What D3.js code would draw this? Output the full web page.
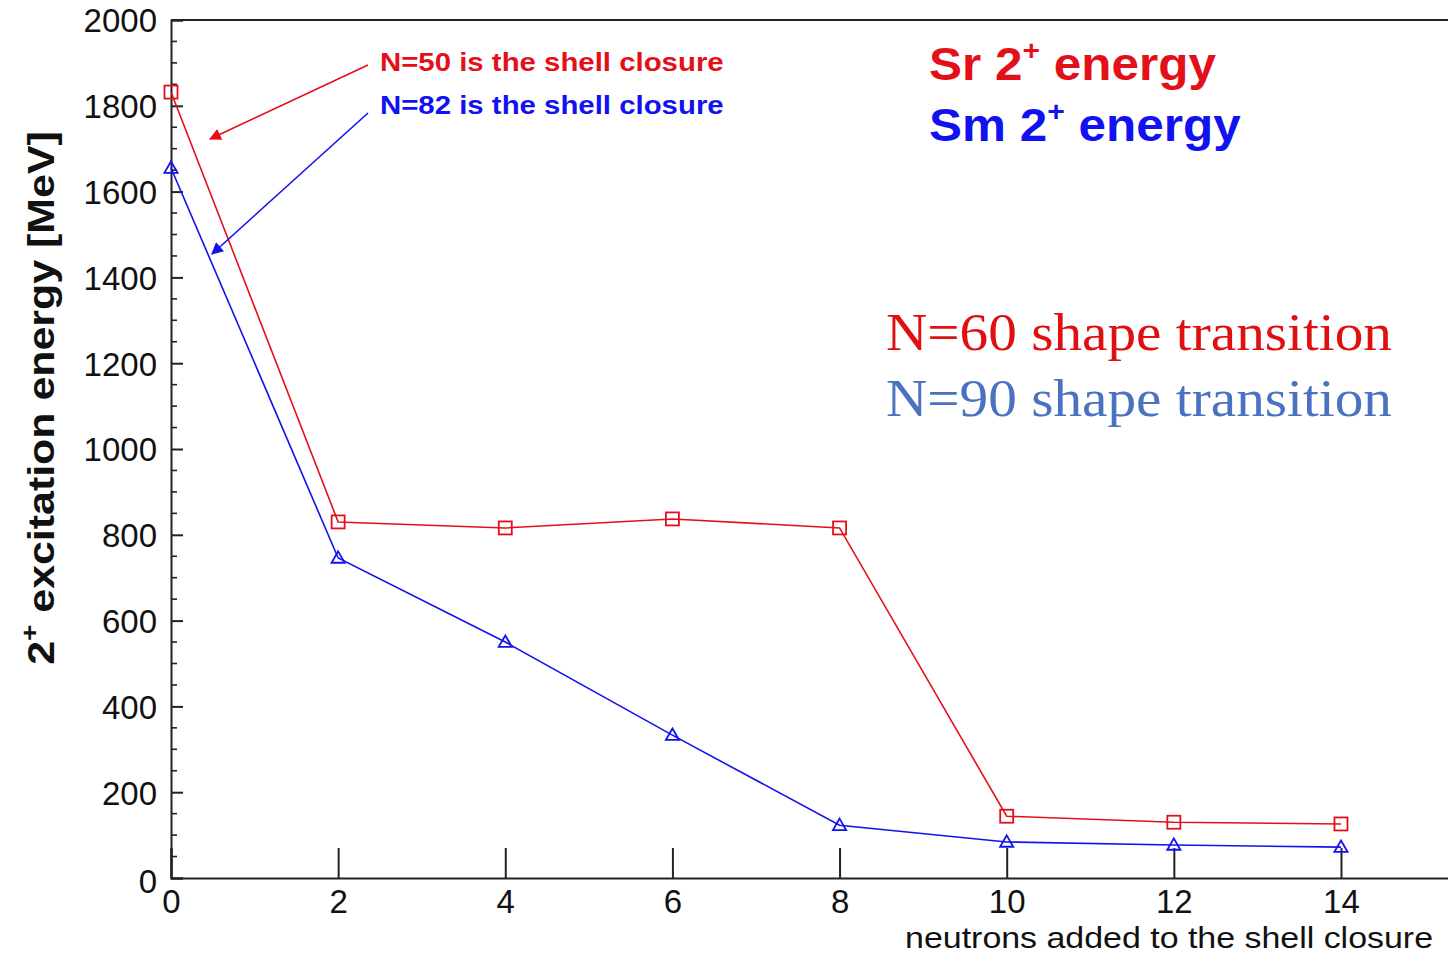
<!DOCTYPE html>
<html><head><meta charset="utf-8">
<script src="https://cdn.jsdelivr.net/npm/d3@7"></script>
<style>html,body{margin:0;padding:0;background:#fff;} svg{display:block;}</style>
</head><body>
<script>
const neutrons = [0, 2, 4, 6, 8, 10, 12, 14];
const srEnergy = [1832, 830, 816, 837, 816, 144, 130, 126];
const smEnergy = [1655, 746, 550, 333, 123, 84, 77, 72];
const xTicks = [0, 2, 4, 6, 8, 10, 12, 14];
const yTicks = [0, 200, 400, 600, 800, 1000, 1200, 1400, 1600, 1800, 2000];

const W = 1448, H = 954;
const SANS = "Liberation Sans, Arial, sans-serif";
const svg = d3.select("body").append("svg").attr("width", W).attr("height", H);
const x = d3.scaleLinear().domain([0, 16]).range([171, 171 + 16 * 83.57]);
const y = d3.scaleLinear().domain([0, 2000]).range([878, 20]);
const RED = "#e3101a", BLUE = "#1212f0";

// frame
svg.append("line").attr("x1", 171).attr("x2", W).attr("y1", y(2000)).attr("y2", y(2000)).attr("stroke", "#222").attr("stroke-width", 2);

// y axis
const yAxis = d3.axisLeft(y).tickValues(yTicks).tickSize(-12).tickFormat(d3.format("d")).tickPadding(14);
const gy = svg.append("g").attr("transform", "translate(171,0)").call(yAxis);
gy.select(".domain").attr("stroke", "#222").attr("stroke-width", 2);
gy.selectAll(".tick line").attr("stroke", "#222").attr("stroke-width", 2);
gy.selectAll(".tick text").attr("font-family", SANS).attr("font-size", 33).attr("fill", "#111").attr("dy", "0.36em");
gy.selectAll(".tick").filter(d => d === 0).select("text").attr("dy", "0.45em");
const minor = d3.range(0, 2001, 50).filter(v => v % 200 !== 0);
svg.append("g").selectAll("line").data(minor).join("line")
  .attr("x1", 171).attr("x2", 177).attr("y1", d => y(d)).attr("y2", d => y(d))
  .attr("stroke", "#222").attr("stroke-width", 1.6);

// x axis
const xAxis = d3.axisBottom(x).tickValues(xTicks).tickSize(-30).tickPadding(32).tickFormat(d3.format("d"));
const gx = svg.append("g").attr("transform", "translate(0,878)").call(xAxis);
gx.select(".domain").attr("stroke", "#222").attr("stroke-width", 2);
gx.selectAll(".tick line").attr("stroke", "#222").attr("stroke-width", 2);
gx.selectAll(".tick text").attr("font-family", SANS).attr("font-size", 33).attr("fill", "#111").attr("dy", "0.1em");

// axis titles
const yt = svg.append("text").attr("transform", "translate(54,398) rotate(-90) scale(1.16,1)")
  .attr("text-anchor", "middle").attr("font-family", SANS)
  .attr("font-weight", "bold").attr("font-size", 37).attr("fill", "#111");
yt.append("tspan").text("2");
yt.append("tspan").text("+").attr("font-size", 24).attr("dy", -16);
yt.append("tspan").text(" excitation energy [MeV]").attr("dy", 16);

svg.append("text").attr("transform", "translate(1433,948) scale(1.17,1)").attr("text-anchor", "end")
  .attr("font-family", SANS).attr("font-size", 29).attr("fill", "#111")
  .text("neutrons added to the shell closure");

// lines
const line = d3.line().x((d, i) => x(neutrons[i])).y(d => y(d));
svg.append("path").datum(srEnergy).attr("d", line).attr("fill", "none").attr("stroke", RED).attr("stroke-width", 1.6);
svg.append("path").datum(smEnergy).attr("d", line).attr("fill", "none").attr("stroke", BLUE).attr("stroke-width", 1.6);

svg.append("g").selectAll("rect").data(srEnergy).join("rect")
  .attr("x", (d, i) => x(neutrons[i]) - 6.5).attr("y", d => y(d) - 6.5)
  .attr("width", 13).attr("height", 13).attr("fill", "none").attr("stroke", RED).attr("stroke-width", 1.8);
const tri = d3.symbol().type(d3.symbolTriangle).size(75);
svg.append("g").selectAll("path").data(smEnergy).join("path")
  .attr("d", tri).attr("transform", (d, i) => `translate(${x(neutrons[i])},${y(d) + 1})`)
  .attr("fill", "none").attr("stroke", BLUE).attr("stroke-width", 1.8);

// arrows
const defs = svg.append("defs");
[["ar", RED], ["ab", BLUE]].forEach(([id, c]) => {
  defs.append("marker").attr("id", id).attr("viewBox", "0 0 10 10").attr("refX", 9).attr("refY", 5)
    .attr("markerWidth", 14).attr("markerHeight", 12).attr("markerUnits", "userSpaceOnUse").attr("orient", "auto")
    .append("path").attr("d", "M0,0 L10,5 L0,10 z").attr("fill", c);
});
svg.append("line").attr("x1", 368).attr("y1", 65).attr("x2", 210).attr("y2", 139)
  .attr("stroke", RED).attr("stroke-width", 1.6).attr("marker-end", "url(#ar)");
svg.append("line").attr("x1", 368).attr("y1", 113).attr("x2", 212).attr("y2", 254)
  .attr("stroke", BLUE).attr("stroke-width", 1.6).attr("marker-end", "url(#ab)");

svg.append("text").attr("transform", "translate(380,71) scale(1.13,1)").attr("font-family", SANS)
  .attr("font-weight", "bold").attr("font-size", 26).attr("fill", RED).text("N=50 is the shell closure");
svg.append("text").attr("transform", "translate(380,114) scale(1.13,1)").attr("font-family", SANS)
  .attr("font-weight", "bold").attr("font-size", 26).attr("fill", BLUE).text("N=82 is the shell closure");

// legends
function leg(txt, yy, c) {
  const t = svg.append("text").attr("transform", `translate(929,${yy}) scale(1.075,1)`).attr("font-family", SANS)
    .attr("font-weight", "bold").attr("font-size", 46).attr("fill", c);
  t.append("tspan").text(txt + " 2");
  t.append("tspan").text("+").attr("font-size", 28).attr("dy", -20);
  t.append("tspan").text(" energy").attr("dy", 20);
}
leg("Sr", 80, RED);
leg("Sm", 141, BLUE);

svg.append("text").attr("transform", "translate(886,350) scale(1.08,1)").attr("font-family", "Liberation Serif, Times New Roman, serif")
  .attr("font-size", 53).attr("fill", "#e01010").text("N=60 shape transition");
svg.append("text").attr("transform", "translate(886,416) scale(1.08,1)").attr("font-family", "Liberation Serif, Times New Roman, serif")
  .attr("font-size", 53).attr("fill", "#4a72c0").text("N=90 shape transition");
</script>
</body></html>
